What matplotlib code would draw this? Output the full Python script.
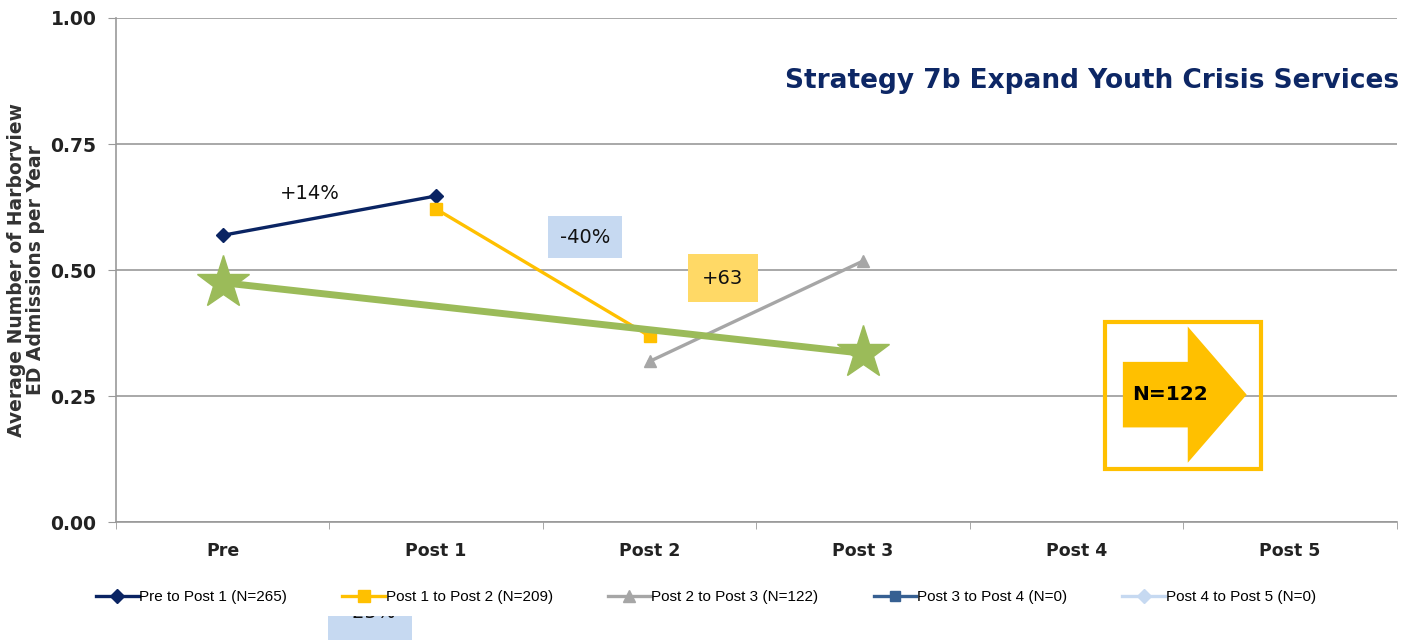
import numpy as np
import matplotlib.pyplot as plt
from matplotlib.patches import Rectangle, FancyArrow

# categories and series values
categories = ['Pre', 'Post 1', 'Post 2', 'Post 3', 'Post 4', 'Post 5']
pre_post1 = [0.569, 0.647]          # Pre -> Post 1
post1_post2 = [0.621, 0.369]        # Post 1 -> Post 2
post2_post3 = [0.319, 0.518]        # Post 2 -> Post 3
trend_x = ['Pre', 'Post 3']
trend_vals = [0.475, 0.335]
legend_labels = ['Pre to Post 1 (N=265)', 'Post 1 to Post 2 (N=209)',
                 'Post 2 to Post 3 (N=122)', 'Post 3 to Post 4 (N=0)',
                 'Post 4 to Post 5 (N=0)']
yticks = [0.0, 0.25, 0.50, 0.75, 1.00]

navy = '#0a2463'
gold = '#ffc000'
gray = '#a6a6a6'
steel = '#376092'
pale = '#c6d9f1'
green = '#9bbb59'

fig = plt.figure(figsize=(14.18, 6.40), dpi=100)
ax = fig.add_axes([0.0818, 0.184, 0.9032, 0.788])

xi = {c: i for i, c in enumerate(categories)}

ax.plot([xi['Pre'], xi['Post 1']], pre_post1, color=navy, lw=2.4, marker='D', ms=7,
        label=legend_labels[0], zorder=4)
ax.plot([xi['Post 1'], xi['Post 2']], post1_post2, color=gold, lw=2.4, marker='s', ms=9,
        label=legend_labels[1], zorder=4)
ax.plot([xi['Post 2'], xi['Post 3']], post2_post3, color=gray, lw=2.4, marker='^', ms=9,
        label=legend_labels[2], zorder=4)
ax.plot([], [], color=steel, lw=2.4, marker='s', ms=7, label=legend_labels[3])
ax.plot([], [], color=pale, lw=2.4, marker='D', ms=7, label=legend_labels[4])

# green trend line with stars
ax.plot([xi[c] for c in trend_x], trend_vals, color=green, lw=5, zorder=5)
ax.plot([xi[c] for c in trend_x], trend_vals, ls='none', marker='*', ms=40,
        color=green, mec=green, zorder=6)

ax.set_xlim(-0.5, 5.5)
ax.set_ylim(0, 1)
ax.set_yticks(yticks)
ax.set_yticklabels([f'{v:.2f}' for v in yticks], fontsize=13.5, fontweight='bold', color='#222222')
ax.set_xticks(range(len(categories)))
ax.set_xticklabels(categories, fontsize=12.5, fontweight='bold', color='#222222')
ax.set_xticks(np.arange(-0.5, 6, 1), minor=True)
ax.tick_params(axis='x', which='major', length=0, pad=14)
ax.tick_params(axis='x', which='minor', length=5, color='#999999')
ax.tick_params(axis='y', length=6, color='#999999', pad=8)
ax.grid(axis='y', color='#999999', lw=1.2)
ax.set_axisbelow(True)
for s in ['top', 'right']:
    ax.spines[s].set_visible(False)
for s in ['left', 'bottom']:
    ax.spines[s].set_color('#999999')
    ax.spines[s].set_linewidth(1.2)

ax.set_ylabel('Average Number of Harborview\nED Admissions per Year', fontsize=13.5,
              fontweight='bold', color='#333333', linespacing=1.0)
ax.yaxis.set_label_coords(-0.0555, 0.5)

ax.text(5.51, 0.875, 'Strategy 7b Expand Youth Crisis Services', ha='right', va='center',
        fontsize=19, fontweight='bold', color='#0d2765')

# percent annotations
ax.text(0.409, 0.651, '+14%', ha='center', va='center', fontsize=14, color='#111111')
ax.text(1.697, 0.565, '-40%', ha='center', va='center', fontsize=14, color='#111111',
        bbox=dict(boxstyle='square,pad=0.6', fc=pale, ec='none'))
ax.text(2.343, 0.484, '+63', ha='center', va='center', fontsize=14, color='#111111',
        bbox=dict(boxstyle='square,pad=0.75', fc='#ffd966', ec='none'))

# N=122 arrow box
ax.add_patch(Rectangle((4.132, 0.105), 0.731, 0.292, fill=False, ec=gold, lw=3, zorder=3))
ax.add_patch(FancyArrow(4.217, 0.253, 0.58, 0, width=0.13, head_width=0.27,
                        head_length=0.276, length_includes_head=True,
                        fc=gold, ec='none', zorder=4))
ax.text(4.437, 0.253, 'N=122', ha='center', va='center', fontsize=14.5,
        fontweight='bold', color='black', zorder=5)

leg = ax.legend(loc='upper center', bbox_to_anchor=(0.4606, -0.107), ncol=5, frameon=False,
                prop={'family': 'Liberation Sans', 'size': 11},
                handlelength=2.8, handletextpad=0.05, columnspacing=3.6)

# cut-off label box at the bottom edge
box = Rectangle((328 / 1418, 0), 84 / 1418, 24 / 640, transform=fig.transFigure,
                fc=pale, ec='none')
fig.patches.append(box)
t = fig.text(370 / 1418, 28 / 640, '-25%', ha='center', va='center', fontsize=14,
             color='#111111')
t.set_clip_path(box)

fig.savefig('out.png', dpi=100)
